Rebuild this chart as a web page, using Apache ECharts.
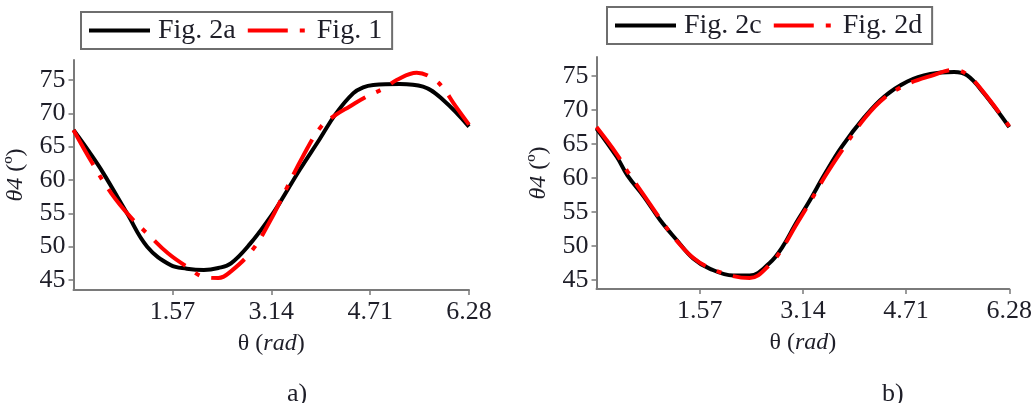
<!DOCTYPE html>
<html>
<head>
<meta charset="utf-8">
<script src="https://cdn.jsdelivr.net/npm/echarts@6.0.0/dist/echarts.min.js"></script>
<style>
html,body{margin:0;padding:0;background:#fff;}
#chart{width:1035px;height:403px;}
</style>
</head>
<body>
<div id="chart"></div>
<script>
// ---- data ----
var xTicks = [1.57, 3.14, 4.71, 6.28];
var yTicks = [45, 50, 55, 60, 65, 70, 75];

var fig2aX = [0, 0.25, 0.475, 0.85, 1.17, 1.54, 1.8, 2.07, 2.3, 2.5, 2.81, 3.13, 3.27, 3.59, 3.90, 4.17, 4.44, 4.6, 4.76, 5.18, 5.55, 5.87, 6.28];
var fig2aY = [67.5, 64.2, 61.0, 55.0, 50.0, 47.25, 46.7, 46.5, 46.8, 47.5, 50.5, 54.5, 56.5, 61.5, 66.0, 70.0, 73.0, 73.9, 74.25, 74.4, 74.0, 72.0, 68.0];

var fig1X = [0, 0.3, 0.6, 0.9, 1.2, 1.5, 1.8, 2.1, 2.3, 2.5, 2.84, 3.13, 3.37, 3.64, 3.93, 4.17, 4.38, 4.65, 4.94, 5.13, 5.45, 5.71, 5.87, 6.05, 6.28];
var fig1Y = [67.5, 62.5, 58.0, 54.5, 51.7, 49.0, 47.0, 45.4, 45.3, 46.3, 49.5, 54.0, 58.5, 63.5, 68.0, 69.8, 71.0, 72.5, 73.8, 75.0, 76.1, 75.2, 73.8, 71.3, 68.3];

var fig2cX = [0, 0.31, 0.47, 0.72, 0.97, 1.22, 1.47, 1.72, 2.08, 2.33, 2.63, 2.83, 3.03, 3.22, 3.48, 3.73, 4.08, 4.38, 4.73, 5.08, 5.44, 5.64, 5.89, 6.28];
var fig2cY = [67.3, 63.1, 60.4, 57.3, 53.8, 50.9, 48.2, 46.7, 45.7, 45.7, 47.5, 49.9, 53.3, 56.3, 60.7, 64.6, 69.0, 72.0, 74.2, 75.3, 75.6, 75.1, 72.5, 67.5];

var fig2dX = [0, 0.31, 0.47, 0.72, 0.97, 1.22, 1.47, 1.72, 2.08, 2.33, 2.63, 2.83, 3.03, 3.22, 3.48, 3.73, 4.08, 4.38, 4.73, 5.08, 5.44, 5.64, 5.89, 6.28];
var fig2dY = [67.5, 63.5, 61.0, 57.5, 54.0, 50.8, 48.3, 46.8, 45.6, 45.3, 47.2, 49.7, 53.0, 56.0, 60.3, 64.0, 68.8, 71.8, 73.8, 75.0, 75.9, 75.2, 72.6, 67.6];

function pairs(xs, ys) { return xs.map(function (x, i) { return [x, ys[i]]; }); }

var FONT = '"Liberation Serif", "DejaVu Serif", serif';
var TXT = '#1e1e28';

function xAx(gi) {
  return {
    type: 'value', gridIndex: gi, min: 0, max: 6.28,
    name: '\u03b8 ({i|rad})', nameLocation: 'middle', nameGap: 42,
    nameTextStyle: { fontFamily: FONT, fontSize: 24, color: TXT,
      rich: { i: { fontFamily: FONT, fontSize: 24, fontStyle: 'italic', color: TXT } } },
    axisLine: { show: true, onZero: false, lineStyle: { color: '#7a7a7a', width: 2 } },
    axisTick: { show: true, customValues: xTicks, length: 5, lineStyle: { color: '#7a7a7a', width: 1.5 } },
    axisLabel: { customValues: xTicks, margin: 9, fontFamily: FONT, fontSize: 26, color: TXT,
      formatter: function (v) { return v.toFixed(2); } },
    splitLine: { show: false }
  };
}
function yAx(gi, mn, mx) {
  return {
    type: 'value', gridIndex: gi, min: mn, max: mx,
    name: '{i|\u03b84} (\u00ba)', nameLocation: 'middle', nameGap: 46, nameRotate: 90,
    nameTextStyle: { fontFamily: FONT, fontSize: 24, color: TXT,
      rich: { i: { fontFamily: FONT, fontSize: 24, fontStyle: 'italic', color: TXT } } },
    axisLine: { show: true, onZero: false, lineStyle: { color: '#7a7a7a', width: 2 } },
    axisTick: { show: true, customValues: yTicks, length: 5, lineStyle: { color: '#7a7a7a', width: 1.5 } },
    axisLabel: { customValues: yTicks, margin: 8, fontFamily: FONT, fontSize: 26, color: TXT },
    splitLine: { show: false }
  };
}
var DASH = [40, 12, 5, 12];
function blackS(name, xi, d) {
  return { name: name, type: 'line', xAxisIndex: xi, yAxisIndex: xi, data: d, smooth: 0.4,
    showSymbol: false, symbol: 'none', lineStyle: { color: '#000', width: 4 }, itemStyle: { color: '#000' }, z: 2 };
}
function redS(name, xi, d) {
  return { name: name, type: 'line', xAxisIndex: xi, yAxisIndex: xi, data: d, smooth: 0.4,
    showSymbol: false, symbol: 'none', lineStyle: { color: '#ff0000', width: 4, type: DASH }, itemStyle: { color: '#ff0000' }, z: 3 };
}
function legendAt(left, top, names) {
  return {
    left: left, top: top, data: names, itemWidth: 61, itemHeight: 14, itemGap: 10,
    padding: [4, 10, 4, 6], borderColor: '#6e6e6e', borderWidth: 2, backgroundColor: '#fff',
    itemStyle: { opacity: 0 },
    lineStyle: { width: 4 },
    textStyle: { fontFamily: FONT, fontSize: 28, color: TXT, padding: [0, 0, 0, 3], lineHeight: 29 }
  };
}

var chart = echarts.init(document.getElementById('chart'), null, { renderer: 'canvas' });
chart.setOption({
  animation: false,
  backgroundColor: '#fff',
  grid: [
    { left: 73.5, right: 566, top: 60, bottom: 113, containLabel: false },
    { left: 596.5, right: 23, top: 57, bottom: 114, containLabel: false }
  ],
  xAxis: [xAx(0), xAx(1)],
  yAxis: [yAx(0, 43.5, 78), yAx(1, 43.7, 77.8)],
  legend: [legendAt(81, 12, ['Fig. 2a', 'Fig. 1']), legendAt(607, 7, ['Fig. 2c', 'Fig. 2d'])],
  title: [
    { text: 'a)', left: 282, top: 376, textStyle: { fontFamily: FONT, fontSize: 26, fontWeight: 'normal', color: TXT } },
    { text: 'b)', left: 877, top: 376, textStyle: { fontFamily: FONT, fontSize: 26, fontWeight: 'normal', color: TXT } }
  ],
  series: [
    blackS('Fig. 2a', 0, pairs(fig2aX, fig2aY)),
    redS('Fig. 1', 0, pairs(fig1X, fig1Y)),
    blackS('Fig. 2c', 1, pairs(fig2cX, fig2cY)),
    redS('Fig. 2d', 1, pairs(fig2dX, fig2dY))
  ]
});
</script>
</body>
</html>
